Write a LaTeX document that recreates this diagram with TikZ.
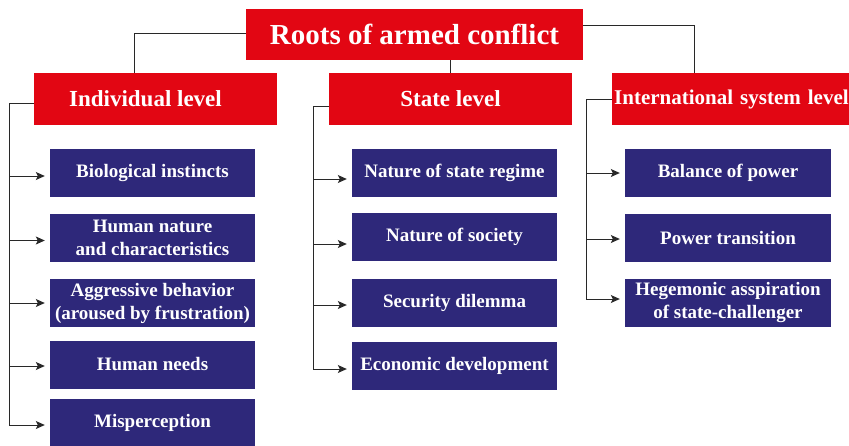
\documentclass[tikz,border=0pt]{standalone}
\usepackage{fontspec}
\setmainfont{Liberation Serif}
\usetikzlibrary{arrows.meta}
\definecolor{rootred}{RGB}{226,6,19}
\definecolor{itemblue}{RGB}{46,40,122}
\definecolor{linegray}{RGB}{40,40,40}
\tikzset{
  redbox/.style={fill=rootred, text=white, font=\bfseries\fontsize{23}{27}\selectfont, inner sep=0pt, minimum height=52pt},
  bluebox/.style={fill=itemblue, text=white, font=\bfseries\fontsize{19}{23}\selectfont, align=center, inner sep=0pt, minimum width=205pt, minimum height=48pt},
  conn/.style={draw=linegray, line width=1pt},
  arr/.style={conn, -{Stealth[length=9pt,width=8pt,inset=2pt]}, shorten >=5pt}
}
\begin{document}
\begin{tikzpicture}[x=1pt,y=-1pt]
\useasboundingbox (0,0) rectangle (849,445);
\clip (0,0) rectangle (849,445);
% top
\node[redbox, font=\bfseries\fontsize{29}{33}\selectfont, minimum width=337pt, minimum height=51pt] (top) at (414.5,34.5) {Roots of armed conflict};
% levels
\node[redbox, minimum width=243pt] (indiv) at (155.5,99) {\hspace*{-20pt}Individual level};
\node[redbox, minimum width=243pt] (state) at (450.5,99) {State level};
\node[redbox, font=\bfseries\fontsize{21}{25}\selectfont, text width=300pt, align=left, inner xsep=2pt, anchor=west] (intl) at (612,99) {International system level};
% connectors from top
\draw[conn] ([yshift=1.5pt]top.west) -| ([xshift=-21.5pt]indiv.north);
\draw[conn] (state.north |- top.south) -- (state.north);
\draw[conn] ([yshift=9.5pt]top.east) -| ([xshift=82pt]intl.north west);
% individual items
\node[bluebox] (i1) at (152.5,173) {Biological instincts};
\node[bluebox] (i2) at (152.5,237.5) {Human nature\\and characteristics};
\node[bluebox] (i3) at (152.5,303) {Aggressive behavior\\(aroused by frustration)};
\node[bluebox] (i4) at (152.5,364.5) {Human needs};
\node[bluebox] (i5) at (152.5,423) {Misperception};
\coordinate (iL) at (9,103);
\draw[conn] (indiv.west |- iL) -- (iL) -- ([yshift=-2pt]iL |- i5);
\foreach \n/\d in {i1/3,i2/3,i3/0,i4/1.5,i5/2}
  \draw[arr] ([yshift=-\d pt]iL |- \n) -- ([yshift=-\d pt]\n.west);
% state items
\node[bluebox] (s1) at (454.5,173) {Nature of state regime};
\node[bluebox] (s2) at (454.5,237) {Nature of society};
\node[bluebox] (s3) at (454.5,303) {Security dilemma};
\node[bluebox] (s4) at (454.5,365.5) {Economic development};
\coordinate (sL) at (313,106);
\draw[conn] (state.west |- sL) -- (sL) -- ([yshift=-3.5pt]sL |- s4);
\foreach \n/\d in {s1/6,s2/7,s3/2,s4/3.5}
  \draw[arr] ([yshift=-\d pt]sL |- \n) -- ([yshift=-\d pt]\n.west);
% international items
\node[bluebox, minimum width=206pt] (n1) at (728,173) {Balance of power};
\node[bluebox, minimum width=206pt] (n2) at (728,238) {Power transition};
\node[bluebox, minimum width=206pt] (n3) at (728,302.5) {Hegemonic asspiration\\of state-challenger};
\coordinate (nL) at (586,99);
\draw[conn] (intl.west) -- (nL) -- ([yshift=3.5pt]nL |- n3);
\foreach \n/\d in {n1/0,n2/1,n3/-3.5}
  \draw[arr] ([yshift=-\d pt]nL |- \n) -- ([yshift=-\d pt]\n.west);
\end{tikzpicture}
\end{document}
